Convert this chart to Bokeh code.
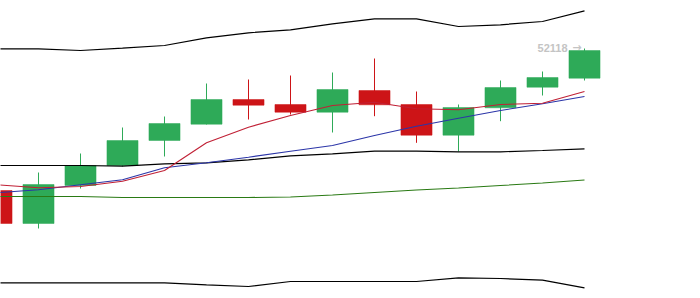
from bokeh.plotting import figure
from bokeh.models import Range1d, ColumnDataSource
from bokeh.core.properties import value
from bokeh.embed import file_html
from bokeh.resources import INLINE

# --- data ---
idx = list(range(15))
opens  = [50698, 50368, 50748, 50948, 51198, 51361, 51608, 51558, 51481, 51698, 51558, 51251, 51525, 51731, 51821]
highs  = [50718, 50878, 51068, 51328, 51438, 51768, 51808, 51848, 51878, 52018, 51688, 51558, 51798, 51888, 52118]
lows   = [50338, 50318, 50718, 50938, 51038, 51358, 51408, 51458, 51278, 51441, 51175, 51088, 51391, 51648, 51798]
closes = [50368, 50758, 50948, 51198, 51368, 51608, 51551, 51481, 51708, 51555, 51251, 51528, 51728, 51828, 52098]

upper  = [52115, 52115, 52098, 52121, 52148, 52225, 52275, 52305, 52365, 52415, 52415, 52338, 52355, 52388, 52495]
middle = [50948, 50948, 50948, 50941, 50965, 50975, 51005, 51045, 51065, 51091, 51091, 51085, 51085, 51098, 51115]
lower  = [49775, 49775, 49775, 49775, 49775, 49755, 49738, 49788, 49788, 49788, 49788, 49825, 49818, 49801, 49725]
ma_red   = [50755, 50725, 50738, 50791, 50898, 51175, 51331, 51448, 51548, 51581, 51515, 51505, 51558, 51571, 51688]
ma_blue  = [50675, 50705, 50755, 50805, 50925, 50975, 51031, 51091, 51148, 51248, 51341, 51421, 51498, 51565, 51638]
ma_green = [50638, 50638, 50638, 50628, 50628, 50628, 50628, 50633, 50653, 50678, 50703, 50723, 50748, 50773, 50803]
last_value = "52118"
arrow = "→"

GREEN = "#2eaa58"
RED = "#cd1417"

p = figure(width=700, height=298, output_backend="svg", toolbar_location=None,
           x_range=Range1d(4 / 42, 704 / 42), y_range=Range1d(49618, 52598),
           x_axis_location=None, y_axis_location=None, min_border=0)
p.grid.visible = False
p.outline_line_color = None
p.background_fill_color = "white"
p.border_fill_color = "white"

up = [c >= o for o, c in zip(opens, closes)]
colors = [GREEN if u else RED for u in up]
src = ColumnDataSource(dict(
    x=idx, o=opens, h=highs, l=lows, c=closes,
    top=[max(o, c) for o, c in zip(opens, closes)],
    bot=[min(o, c) for o, c in zip(opens, closes)],
    color=colors))

p.segment(x0="x", y0="h", x1="x", y1="l", color="color", line_width=1, source=src)
p.vbar(x="x", width=0.74, top="top", bottom="bot", fill_color="color", line_color="color",
       line_width=0.5, source=src)

p.line(idx, upper, line_color="black", line_width=1.2)
p.line(idx, middle, line_color="black", line_width=1.2)
p.line(idx, lower, line_color="black", line_width=1.2)
p.line(idx, ma_green, line_color="#2a7a14", line_width=1.1)
p.line(idx, ma_blue, line_color="#2b35a8", line_width=1.1)
p.line(idx, ma_red, line_color="#c02035", line_width=1.1)

p.text(x=[idx[-1]], y=[highs[-1]], text=[last_value], text_align="right",
       text_baseline="middle", x_offset=-17, y_offset=-1,
       text_font=value("Liberation Sans"), text_font_style="bold",
       text_font_size="11px", text_color="#c4c4c4")
p.text(x=[idx[-1]], y=[highs[-1]], text=[arrow], text_align="right",
       text_baseline="middle", x_offset=-3, y_offset=-1,
       text_font=value("DejaVu Sans"), text_font_style="bold",
       text_font_size="11px", text_color="#c4c4c4")

open("out.html", "w").write(file_html(p, INLINE))
